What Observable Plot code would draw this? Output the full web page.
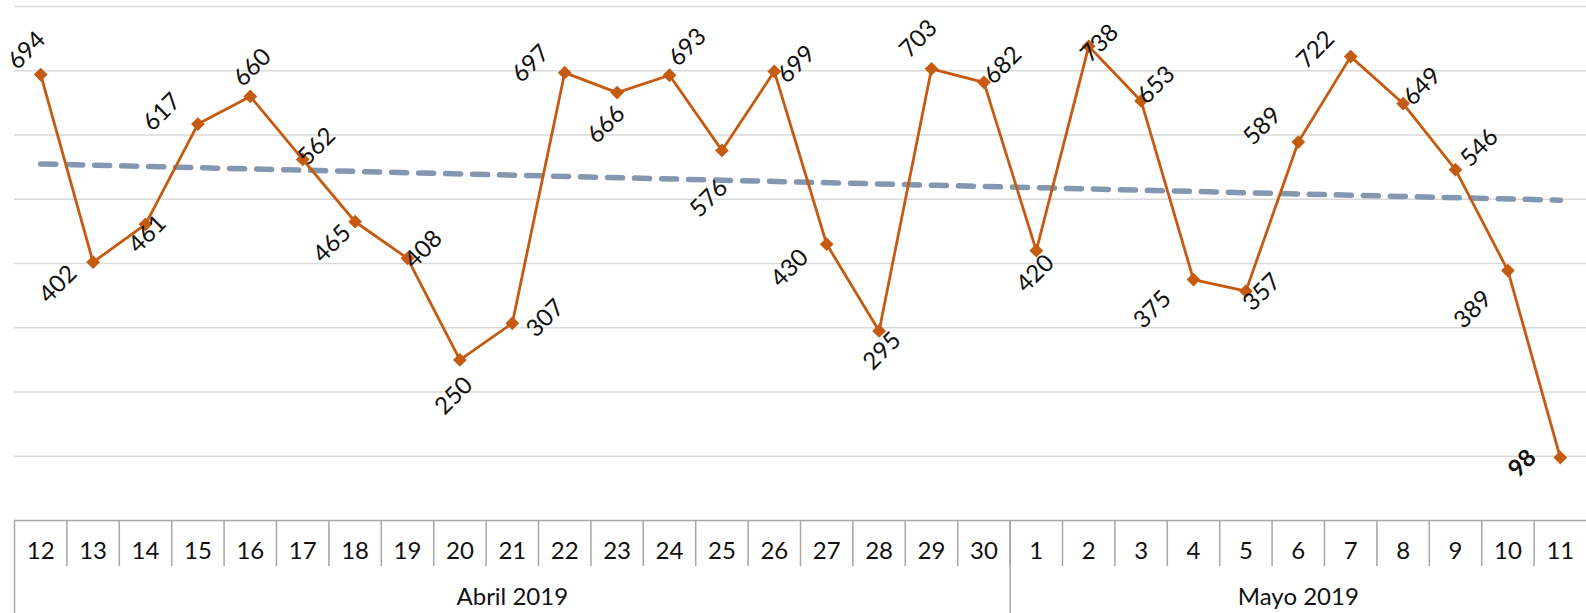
<!DOCTYPE html>
<html>
<head>
<meta charset="utf-8">
<script src="https://cdn.jsdelivr.net/npm/d3@7"></script>
<script src="https://cdn.jsdelivr.net/npm/@observablehq/plot@0.6"></script>
<style>
  html, body { margin: 0; padding: 0; background: #ffffff; }
  #chart { width: 1586px; height: 613px; }
</style>
</head>
<body>
<div id="chart"></div>
<script>
// ---- Data ----
const dayLabels = ["12","13","14","15","16","17","18","19","20","21","22","23","24","25","26","27","28","29","30",
                   "1","2","3","4","5","6","7","8","9","10","11"];
const values = [694, 402, 461, 617, 660, 562, 465, 408, 250, 307, 697, 666, 693, 576, 699, 430, 295, 703, 682,
                420, 738, 653, 375, 357, 589, 722, 649, 546, 389, 98];
const months = ["Abril 2019", "Mayo 2019"];
const monthLengths = [19, 11];
const gridValues = [100, 200, 300, 400, 500, 600, 700, 800];

// ---- Label layout (pixel nudges for each value label) ----
const labelNudges = [
  [-14,-24], [-35,22], [2,10], [-36,-12], [2,-29], [14,-13], [-23,22], [16,-9], [-6,36], [33,-5],
  [-34,-9], [-11,32], [18,-28], [-13,48], [22,-7], [-37,24], [3,20], [-13,-30], [19,-17], [-1,23],
  [11,-3], [15,-16], [-41,30], [16,1], [-36,-16], [-35,-7], [19,-17], [24,-22], [-35,39], [-38,6]
];

// ---- Derived tables ----
const data = values.map((v, i) => ({i, v, day: dayLabels[i]}));
const lastIndex = values.length - 1;
const monthStarts = monthLengths.map((_, k) => d3.sum(monthLengths.slice(0, k)));
const monthTable = months.map((m, k) => ({
  name: m,
  start: monthStarts[k] - 0.5,
  center: monthStarts[k] + (monthLengths[k] - 1) / 2
}));
const dayDividers = d3.range(1, values.length).map(i => i - 0.5);

const ORANGE = "#c55a11";
const TREND = "#8497b0";
const GRID = "#d9d9d9";
const TABLE = "#a6a6a6";
const FONT = "Lato, 'Noto Sans', sans-serif";

const labelMarks = data.map(d => Plot.text([d], {
  x: "i", y: "v", text: r => String(r.v),
  rotate: -45,
  dx: labelNudges[d.i][0], dy: labelNudges[d.i][1],
  fontSize: 24,
  fontWeight: d.i === lastIndex ? "bold" : "normal",
  fill: "#111111"
}));

const chart = Plot.plot({
  width: 1586,
  height: 613,
  marginLeft: 14,
  marginRight: 0,
  marginTop: 6,
  marginBottom: 93,
  x: {type: "linear", domain: [-0.5, values.length - 0.5], axis: null},
  y: {domain: [0, 800], axis: null},
  style: {fontFamily: FONT, fontSize: "24px", background: "#ffffff", color: "#111", overflow: "visible"},
  marks: [
    Plot.ruleY(gridValues, {stroke: GRID, strokeWidth: 1.5}),
    // bottom category table
    Plot.ruleY([0], {stroke: TABLE, strokeWidth: 1.5}),
    Plot.ruleX(dayDividers, {stroke: TABLE, strokeWidth: 1.5, insetTop: 514, insetBottom: -46}),
    Plot.ruleX(monthTable, {x: "start", stroke: TABLE, strokeWidth: 1.5, insetTop: 514, insetBottom: -93}),
    Plot.text(data, {x: "i", text: "day", frameAnchor: "bottom", lineAnchor: "middle", dy: 31, fontSize: 24, fill: "#111"}),
    Plot.text(monthTable, {x: "center", text: "name", frameAnchor: "bottom", lineAnchor: "middle", dy: 77, fontSize: 24, fill: "#111"}),
    // trend
    Plot.linearRegressionY(data, {x: "i", y: "v", ci: 0, stroke: TREND, strokeWidth: 5.5,
      strokeDasharray: "15,12", strokeLinecap: "round"}),
    // series
    Plot.line(data, {x: "i", y: "v", stroke: ORANGE, strokeWidth: 2.8}),
    Plot.dot(data, {x: "i", y: "v", symbol: "diamond2", r: 6.2, fill: ORANGE, stroke: "none"}),
    ...labelMarks
  ]
});
document.getElementById("chart").appendChild(chart);
</script>
</body>
</html>
